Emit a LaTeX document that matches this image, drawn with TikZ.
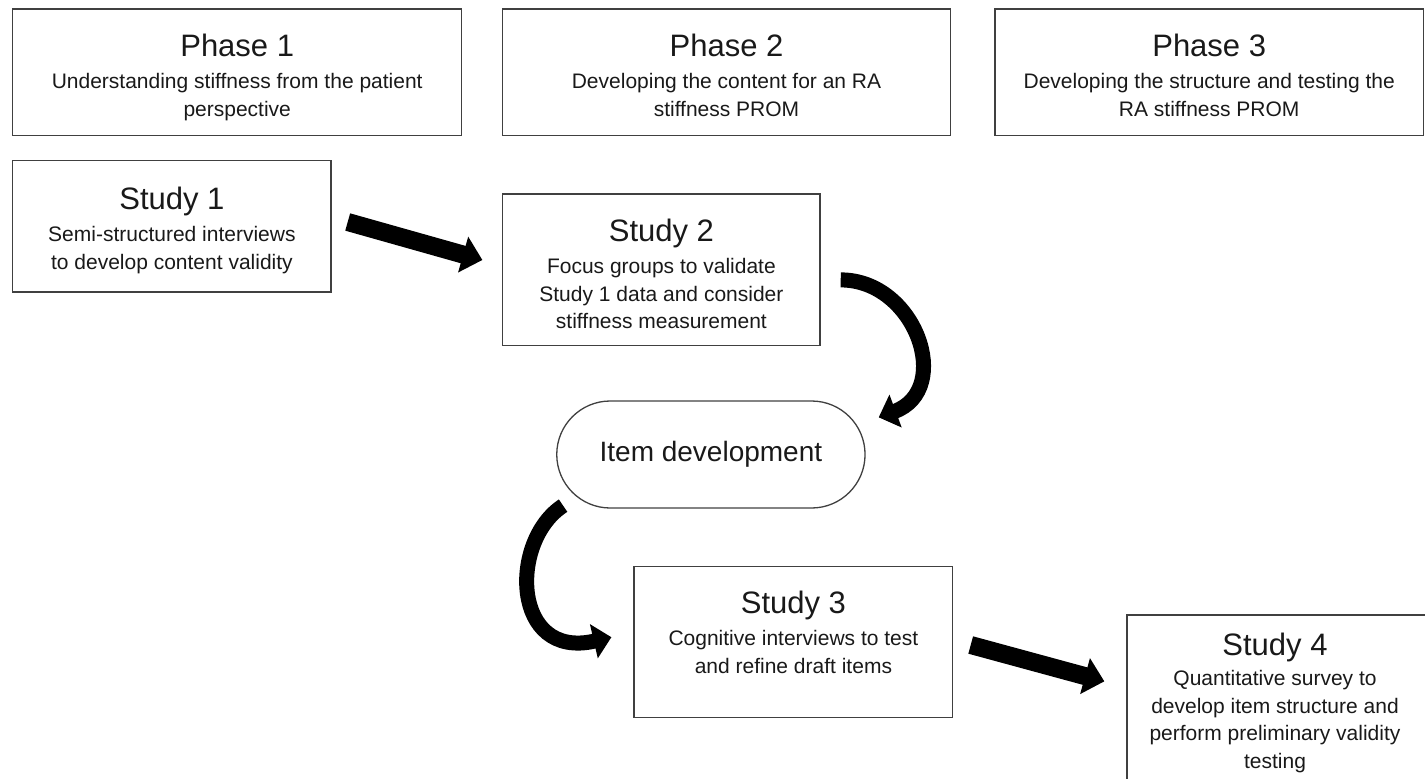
\documentclass[tikz,border=0pt]{standalone}
\usepackage{fontspec}
\setmainfont{Liberation Sans}
\usetikzlibrary{arrows.meta,calc}

\newcommand{\titlesize}{\fontsize{31}{34}\selectfont}
\newcommand{\bodysize}{\fontsize{21}{27.5}\selectfont}

\tikzset{
  box/.style={draw=black!75, line width=1.3pt, inner sep=0pt},
  boxtext/.style={anchor=north, align=center, inner sep=0pt, text=black!90, font=\bodysize},
  straightarrow/.style={line width=18pt, -{Triangle[length=20pt,width=36pt]}},
  curvedarrow/.style={line width=15pt, -{Triangle[length=18pt,width=34pt]}},
}

\begin{document}
\begin{tikzpicture}[x=1pt, y=-1pt]
            \useasboundingbox (0,0) rectangle (1425,779);
            \clip (0,0) rectangle (1425,779);

            % phases
            \node[box, minimum width=449pt, minimum height=126.7pt] (phase1) at (237.2, 72.4) {};
            \node[box, minimum width=448.4pt, minimum height=126.7pt] (phase2) at (726.5, 72.4) {};
            \node[box, minimum width=428.5pt, minimum height=126.7pt] (phase3) at (1209.2, 72.4) {};

            \node[boxtext] (phase1text) at ($(phase1.north)+(0,25.4)$) {{\titlesize Phase 1}\\[5pt]Understanding stiffness from the patient\\perspective};
            \node[boxtext] (phase2text) at ($(phase2.north)+(0,25.4)$) {{\titlesize Phase 2}\\[5pt]Developing the content for an RA\\stiffness PROM};
            \node[boxtext] (phase3text) at ($(phase3.north)+(0,25.4)$) {{\titlesize Phase 3}\\[5pt]Developing the structure and testing the\\RA stiffness PROM};

            % studies
            \node[box, minimum width=318.3pt, minimum height=131.3pt] (study1) at (171.9, 226.4) {};
            \node[box, minimum width=317.3pt, minimum height=151.7pt] (study2) at (661.4, 269.9) {};
            \node[box, rounded corners=53.5pt, minimum width=308.3pt, minimum height=107pt,
                  text=black!90, font=\fontsize{28}{32}\selectfont] (itemdev) at (710.9, 454.5) {Item development};
            \node[box, minimum width=318.7pt, minimum height=151pt] (study3) at (793.4, 642.2) {};
            \node[box, minimum width=318pt, minimum height=200pt] (study4) at (1286, 715) {};

            \node[boxtext] (study1text) at ($(study1.north)+(0,26.7)$) {{\titlesize Study 1}\\[5pt]Semi-structured interviews\\to develop content validity};
            \node[boxtext] (study2text) at ($(study2.north)+(0,25.1)$) {{\titlesize Study 2}\\[5pt]Focus groups to validate\\Study 1 data and consider\\stiffness measurement};
            \node[boxtext] (study3text) at ($(study3.north)+(0,24.7)$) {{\titlesize Study 3}\\[5pt]Cognitive interviews to test\\and refine draft items};
            \node[boxtext] (study4text) at (1275, 632.4) {{\titlesize Study 4}\\[3pt]Quantitative survey to\\develop item structure and\\perform preliminary validity\\testing};

            % arrows
            \draw[straightarrow] ($(study1.east)+(16,-4.4)$) -- ($(study2.west)+(-19.7,-9.9)$);
            \draw[curvedarrow] ($(study2.east)+(20,10)$) .. controls +(75,0) and +(75,-28) .. ($(itemdev.north east)+(13,17)$);
            \draw[curvedarrow] ($(itemdev.south west)+(7,-3)$) .. controls +(-54,35) and +(-100,23) .. ($(study3.west)+(-22,-5)$);
            \draw[straightarrow] ($(study3.east)+(17.3,2.8)$) -- ($(study4.north west)+(-22,67)$);
        \end{tikzpicture}
\end{document}
